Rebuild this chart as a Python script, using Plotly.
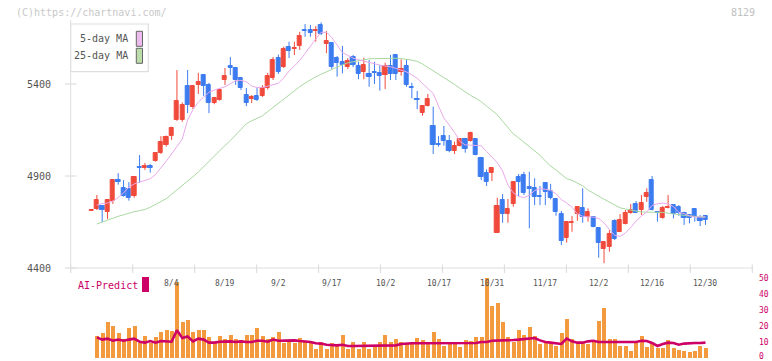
import plotly.graph_objects as go
import pandas as pd

W, H = 772, 361

holidays = ["2025-07-21", "2025-08-11", "2025-09-15", "2025-09-23",
            "2025-10-13", "2025-11-03", "2025-11-24"]
dates = [d.strftime("%-m/%-d") for d in pd.bdate_range("2025-07-11", "2025-12-30")
         if d.strftime("%Y-%m-%d") not in holidays]

tick_labels = ["8/4", "8/19", "9/2", "9/17", "10/2", "10/17", "10/31",
               "11/17", "12/2", "12/16", "12/30"]

opens = [4711,4721,4739,4706,4766,4878,4835,4829,4791,4951,
         4943,4954,4982,5025,5068,5117,5204,5204,5389,5277,
         5395,5449,5395,5298,5313,5422,5498,5489,5433,5340,
         5318,5335,5335,5378,5433,5541,5492,5603,5593,5608,
         5694,5694,5686,5721,5617,5621,5543,5521,5494,5548,
         5498,5464,5454,5464,5461,5449,5498,5558,5464,5498,
         5385,5318,5244,5280,5172,5074,5117,5090,5036,5063,
         5101,5092,5101,4996,4915,4915,4592,4770,4693,4748,
         4893,4905,4838,4833,4794,4860,4818,4775,4694,4564,
         4646,4693,4724,4679,4679,4616,4502,4516,4655,4597,
         4639,4697,4748,4715,4788,4878,4706,4670,4725,4742,
         4730,4701,4686,4719,4673,4683]
closes = [4716,4770,4717,4770,4878,4867,4791,4782,4896,4942,
          4954,4943,5025,5085,5112,5161,5308,5286,5286,5389,
          5411,5389,5297,5324,5367,5444,5487,5422,5378,5297,
          5329,5313,5378,5444,5530,5465,5590,5582,5598,5661,
          5688,5679,5691,5672,5634,5494,5516,5503,5527,5503,
          5454,5503,5436,5458,5443,5498,5454,5454,5482,5395,
          5378,5313,5282,5318,5068,5068,5090,5036,5063,5101,
          5047,5135,5014,4896,4869,4942,4737,4693,4721,4869,
          4869,4809,4830,4784,4788,4815,4779,4706,4548,4650,
          4652,4730,4679,4703,4624,4534,4540,4583,4556,4661,
          4701,4715,4701,4755,4809,4715,4701,4728,4730,4692,
          4697,4673,4673,4679,4655,4661]
highs = [4716,4797,4742,4772,4880,4916,4878,4867,4900,5014,
         4971,4965,5030,5117,5120,5168,5476,5300,5476,5392,
         5461,5452,5406,5330,5378,5487,5547,5493,5438,5378,
         5340,5378,5394,5460,5547,5560,5603,5630,5630,5684,
         5726,5721,5715,5735,5688,5625,5552,5607,5541,5558,
         5521,5543,5530,5521,5503,5516,5558,5562,5534,5536,
         5407,5362,5285,5346,5277,5117,5172,5123,5087,5105,
         5105,5141,5105,4998,4936,4945,4782,4802,4775,4871,
         4911,4923,4923,4888,4846,4862,4857,4776,4710,4652,
         4683,4732,4833,4724,4681,4618,4545,4607,4665,4693,
         4715,4748,4764,4797,4833,4900,4710,4737,4797,4745,
         4742,4706,4688,4721,4688,4685]
lows = [4711,4715,4650,4666,4748,4853,4788,4766,4782,4864,
        4933,4918,4978,5020,5060,5096,5200,5195,5242,5264,
        5346,5335,5242,5290,5310,5395,5449,5395,5367,5280,
        5297,5308,5330,5370,5422,5455,5487,5541,5558,5585,
        5657,5657,5630,5666,5568,5482,5440,5458,5482,5492,
        5426,5426,5385,5400,5364,5373,5422,5422,5445,5385,
        5322,5263,5228,5278,5020,5060,5065,5029,5020,5060,
        5027,5087,5012,4878,4846,4873,4590,4646,4646,4733,
        4791,4797,4616,4742,4742,4742,4773,4684,4525,4538,
        4597,4657,4646,4652,4621,4456,4426,4489,4552,4595,
        4637,4695,4699,4688,4760,4713,4652,4668,4724,4670,
        4684,4634,4643,4652,4628,4634]

ma5 = [None,4742,4750,4753,4764,4783,4808,4840,4857,4867,
       4876,4885,4909,4942,4981,5020,5058,5101,5204,5261,
       5302,5326,5355,5367,5376,5385,5401,5419,5420,5412,
       5389,5381,5381,5390,5397,5404,5433,5471,5498,5529,
       5566,5609,5645,5681,5681,5653,5611,5570,5556,5541,
       5532,5524,5517,5510,5503,5498,5494,5485,5476,5466,
       5449,5432,5403,5376,5349,5280,5215,5177,5137,5088,
       5069,5068,5068,5064,5033,5005,4973,4927,4851,4808,
       4789,4783,4794,4821,4832,4828,4822,4804,4772,4753,
       4730,4695,4681,4678,4677,4669,4645,4609,4577,4572,
       4590,4620,4655,4683,4704,4740,4749,4753,4748,4734,
       4702,4696,4684,4677,4677,4677]
ma25 = [None,4639,4650,4661,4672,4681,4689,4699,4706,4712,
        4718,4730,4745,4758,4777,4801,4824,4847,4871,4896,
        4922,4952,4982,5010,5038,5066,5093,5123,5153,5184,
        5200,5213,5227,5250,5273,5297,5319,5344,5367,5385,
        5405,5424,5439,5453,5467,5480,5492,5504,5515,5521,
        5527,5533,5537,5538,5539,5540,5541,5540,5538,5536,
        5530,5523,5509,5490,5472,5455,5436,5418,5398,5377,
        5357,5338,5322,5304,5280,5257,5233,5198,5164,5129,
        5107,5084,5061,5039,5013,4982,4954,4933,4908,4886,
        4876,4863,4847,4824,4805,4790,4774,4758,4742,4727,
        4721,4715,4709,4704,4704,4704,4704,4702,4698,4693,
        4689,4686,4683,4680,4677,4677]

volume = [None,13.75,15.6,22.5,20.2,15.6,12.1,18.75,20.2,9.4,
          13.75,9.4,13.1,16.25,17.5,17.1,47.5,22.5,23.75,16.25,
          17.5,17.5,13.1,9.4,13.75,11.9,14.6,11.9,11.25,14.6,
          14.6,18.75,13.75,11.9,13.1,16.25,9.4,10.6,9.4,12.5,
          10.6,9.4,5.6,10,5.6,9.4,8.75,14.4,5.6,10,
          5.6,10,5.6,7.9,10,14.4,10,11.9,10,9.4,
          9.4,12.5,11.25,9.4,16.25,11.9,7.5,8.75,8.75,6.9,
          11.25,10.6,13.1,13.1,50,32.7,34.4,22.5,13.1,10,
          17.5,14.4,19.4,13.75,8.75,9.4,8.75,7.5,15.6,24.4,
          11.9,9.4,9.4,8.75,10.6,23.1,31.25,11.9,11.9,7.5,
          7.5,4.4,9.4,13.75,6.9,9.4,6.25,6.25,11.25,6.25,
          5,4.4,3.75,4.4,7.5,6.25]
ai_predict = [None,12.9,11.5,12.1,10.8,11.5,10.8,11.5,12.1,10.2,
              9.6,10.6,9.6,10.6,10.2,10.2,17.3,12.5,13.5,10.4,
              12.1,11.5,9.6,9.6,10.2,10.4,10.4,10,10.4,10,
              10,10.8,10.8,10.2,11.5,10.8,11,11,11,10.6,
              10.4,10,9.2,9,8.3,7.9,7.9,8.3,7.5,7.5,
              7.5,7.5,7.5,7.5,7.5,7.5,7.5,7.9,8.75,9.2,
              9.2,9.2,9.2,9.2,9.2,9.2,9.6,9.2,9.6,9.2,
              9.6,9.2,9.4,10,10,10.8,10.8,10.8,10.8,11.25,
              11.5,11.9,12.1,12.5,11,10,9.6,9,8.75,12.1,
              10.4,9.6,9.6,10.4,10.8,10,10,10,10,10,
              10,10,10,10.8,10.6,9.4,7.5,8.75,9.6,9.4,
              8.3,9,9.4,9.4,9.4,9.6]

price_ticks = [5400, 4900, 4400]
vol_ticks = [0, 10, 20, 30, 40, 50]

RED = "#f04a3c"
BLUE = "#3c7cf0"

# ---------- geometry (pixels) ----------
PL, PR = 70.7, 752.3          # plot left / right
MAIN_TOP, MAIN_BOT = 20, 268
VOL_TOP, VOL_BOT = 278, 358
XMIN, XMAX = -3.9, 123.77
YMIN, YMAX = 4400, 5748


def px(x):
    return x / W


def py(y):
    return 1 - y / H


idx = list(range(len(dates)))
up = [c >= o for o, c in zip(opens, closes)]
colors = [RED if u else BLUE for u in up]

fig = go.Figure()

# wicks
for col, flag in ((RED, True), (BLUE, False)):
    wx, wy = [], []
    for i in idx:
        if up[i] == flag:
            wx += [i, i, None]
            wy += [lows[i], highs[i], None]
    fig.add_trace(go.Scatter(x=wx, y=wy, mode="lines", line=dict(color=col, width=1),
                             hoverinfo="skip", showlegend=False, xaxis="x", yaxis="y"))

# bodies
fig.add_trace(go.Bar(x=idx, base=[min(o, c) for o, c in zip(opens, closes)],
                     y=[abs(c - o) for o, c in zip(opens, closes)],
                     width=0.78, marker=dict(color=colors, line=dict(color=colors, width=1)),
                     showlegend=False, xaxis="x", yaxis="y"))

# moving averages
fig.add_trace(go.Scatter(x=idx, y=ma25, mode="lines", line=dict(color="#a9d9a0", width=1),
                         showlegend=False, xaxis="x", yaxis="y"))
fig.add_trace(go.Scatter(x=idx, y=ma5, mode="lines", line=dict(color="#e9a9e9", width=1),
                         showlegend=False, xaxis="x", yaxis="y"))

# volume + AI predict
fig.add_trace(go.Bar(x=idx, y=volume, width=0.75, marker=dict(color="#f39a3e", line=dict(width=0)),
                     showlegend=False, xaxis="x2", yaxis="y2"))
fig.add_trace(go.Scatter(x=idx, y=ai_predict, mode="lines", line=dict(color="#cc0066", width=2.6),
                         showlegend=False, xaxis="x2", yaxis="y2"))

shapes = []
annotations = []
GRAY = "#dedede"
# axes lines
shapes.append(dict(type="line", xref="paper", yref="paper", x0=px(PL), x1=px(PR),
                   y0=py(MAIN_BOT), y1=py(MAIN_BOT), line=dict(color=GRAY, width=1)))
shapes.append(dict(type="line", xref="paper", yref="paper", x0=px(PL), x1=px(PL),
                   y0=py(MAIN_TOP), y1=py(MAIN_BOT), line=dict(color=GRAY, width=1)))
# x tick marks (11 equal intervals)
for k in range(12):
    xx = PL + (PR - PL) * k / 11
    shapes.append(dict(type="line", xref="paper", yref="paper", x0=px(xx), x1=px(xx),
                       y0=py(264.5), y1=py(273), line=dict(color=GRAY, width=1.2)))
# y ticks + labels
for v in price_ticks:
    yy = MAIN_BOT - (v - YMIN) / (YMAX - YMIN) * (MAIN_BOT - MAIN_TOP)
    shapes.append(dict(type="line", xref="paper", yref="paper", x0=px(65), x1=px(76.5),
                       y0=py(yy), y1=py(yy), line=dict(color=GRAY, width=1.2)))
    annotations.append(dict(x=px(39), y=py(yy), xref="paper", yref="paper", text=str(v),
                            showarrow=False, xanchor="center", yanchor="middle",
                            font=dict(family="DejaVu Sans Mono", size=10, color="#555")))
# date labels
for lab in tick_labels:
    i = dates.index(lab)
    annotations.append(dict(x=i, y=py(283), xref="x", yref="paper", text=lab, showarrow=False,
                            xanchor="center", yanchor="middle",
                            font=dict(family="DejaVu Sans Mono", size=8, color="#555")))
# volume axis labels
for v in vol_ticks:
    yy = VOL_BOT - v / 50 * (VOL_BOT - VOL_TOP)
    annotations.append(dict(x=px(757), y=py(min(yy, 356.5)), xref="paper", yref="paper",
                            text=str(v), showarrow=False, xanchor="left", yanchor="middle",
                            font=dict(family="DejaVu Sans Mono", size=8, color="#cc0066")))
# AI-Predict legend
annotations.append(dict(x=px(76), y=py(285), xref="paper", yref="paper", text="AI-Predict",
                        showarrow=False, xanchor="left", yanchor="middle",
                        font=dict(family="DejaVu Sans Mono", size=10, color="#cc0066")))
shapes.append(dict(type="rect", xref="paper", yref="paper", x0=px(142), x1=px(149),
                   y0=py(277), y1=py(292), fillcolor="#cc0066", line=dict(width=0)))
# MA legend box
shapes.append(dict(type="rect", xref="paper", yref="paper", x0=px(PL), x1=px(148.3),
                   y0=py(24), y1=py(71.7), fillcolor="white", line=dict(color=GRAY, width=1.2),
                   layer="above"))
for t, yy, fc in (("5-day MA", 39, "#eebbee"), ("25-day MA", 56, "#bbddaa")):
    annotations.append(dict(x=px(130), y=py(yy), xref="paper", yref="paper", text=t,
                            showarrow=False, xanchor="right", yanchor="middle",
                            font=dict(family="DejaVu Sans Mono", size=10, color="#555")))
    shapes.append(dict(type="rect", xref="paper", yref="paper", x0=px(136.3), x1=px(142.5),
                       y0=py(yy - 7.7), y1=py(yy + 7.3), fillcolor=fc,
                       line=dict(color="#666", width=1), layer="above"))
# watermark and code
annotations.append(dict(x=px(14), y=py(12), xref="paper", yref="paper",
                        text="(C)https://chartnavi.com/", showarrow=False, xanchor="left",
                        yanchor="middle", font=dict(family="DejaVu Sans Mono", size=10, color="#c8c8c8")))
annotations.append(dict(x=px(757), y=py(12), xref="paper", yref="paper", text="8129",
                        showarrow=False, xanchor="right", yanchor="middle",
                        font=dict(family="DejaVu Sans Mono", size=10, color="#c0c0c0")))

axis_common = dict(showgrid=False, zeroline=False, showticklabels=False, ticks="",
                   showline=False, fixedrange=True)
fig.update_layout(
    width=W, height=H, margin=dict(l=0, r=0, t=0, b=0),
    paper_bgcolor="white", plot_bgcolor="white",
    showlegend=False, barmode="overlay", bargap=0,
    xaxis=dict(domain=[px(PL), px(PR)], range=[XMIN, XMAX], anchor="y", **axis_common),
    yaxis=dict(domain=[py(MAIN_BOT), py(MAIN_TOP)], range=[YMIN, YMAX], anchor="x", **axis_common),
    xaxis2=dict(domain=[px(PL), px(PR)], range=[XMIN, XMAX], anchor="y2", **axis_common),
    yaxis2=dict(domain=[py(VOL_BOT), py(VOL_TOP)], range=[0, 50], anchor="x2", **axis_common),
    shapes=shapes, annotations=annotations,
)

fig.write_html("out.html", config={"displayModeBar": False},
               post_script="document.body.style.margin='0';document.body.style.overflow='hidden';")
